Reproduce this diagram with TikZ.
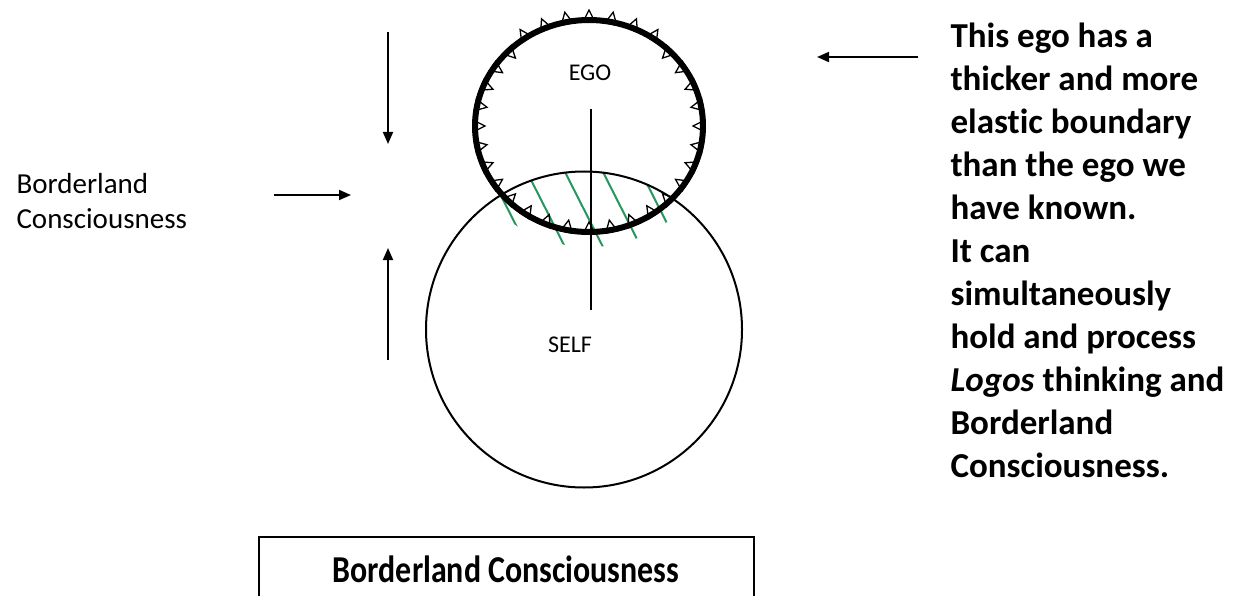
\documentclass[tikz,border=0pt]{standalone}
\usepackage{fontspec}
\setmainfont{Carlito}[Ligatures={NoCommon,NoRare}]
\usetikzlibrary{arrows.meta}
\definecolor{hatchgreen}{RGB}{40,150,95}
\begin{document}
\begin{tikzpicture}[x=1pt,y=-1pt,
  arr/.style={line width=1.8pt,-{Triangle[length=12pt,width=10pt]}},
  selfline/.style={line width=2pt},
  egoline/.style={line width=6pt},
  tri/.style={line width=1.3pt},
  hatch/.style={hatchgreen,line width=2pt},
  axis/.style={line width=2.6pt},
  lbl/.style={font=\fontsize{24}{29}\selectfont,anchor=base},
  lefttxt/.style={font=\fontsize{29}{35}\selectfont,align=left,anchor=base west},
  righttxt/.style={font=\bfseries\fontsize{35}{43}\selectfont,align=left,anchor=base west},
  titletxt/.style={font=\bfseries\fontsize{38}{46}\selectfont,anchor=base}]
\clip (0,0) rectangle (1233,596);
\fill[white] (0,0) rectangle (1233,596);
% hatching in the overlap
\begin{scope}
  \clip (584,329.5) circle (158);
  \clip (589,126) ellipse (128 and 121);
  \foreach \k in {-3,...,3}{
    \draw[hatch] ({565+\k*38-60},{172-118.4}) -- ({565+\k*38+60},{172+118.4});
  }
\end{scope}
% self circle
\draw[selfline] (584,329.5) circle (158);
% ego boundary triangles
\foreach \a in {0,11.25,...,350}{
  \pgfmathsetmacro\s{ifthenelse(and(\a>45,\a<135),1,-1)}
  \pgfmathsetmacro\ax{589+114*cos(\a)+\s*10*cos(\a)}
  \pgfmathsetmacro\ay{126-106*sin(\a)-\s*10*sin(\a)}
  \pgfmathsetmacro\bx{589+114*cos(\a)-\s*2*cos(\a)-6*sin(\a)}
  \pgfmathsetmacro\by{126-106*sin(\a)+\s*2*sin(\a)-6*cos(\a)}
  \pgfmathsetmacro\cx{589+114*cos(\a)-\s*2*cos(\a)+6*sin(\a)}
  \pgfmathsetmacro\cy{126-106*sin(\a)+\s*2*sin(\a)+6*cos(\a)}
  \draw[tri] (\ax,\ay) -- (\bx,\by) -- (\cx,\cy) -- cycle;
}
% ego boundary
\draw[egoline] (589,126) ellipse (114 and 106);
% vertical axis
\coordinate (axtop) at (591,109);
\coordinate (axbot) at (591,310);
\draw[axis] (axtop) -- (axbot);
% labels
\node[lbl] (ego) at (590,81) {EGO};
\node[lbl] (self) at (570,352) {SELF};
% arrows
\coordinate (d1) at (388,32);  \coordinate (d2) at (388,144);
\coordinate (u1) at (388,360); \coordinate (u2) at (388,248);
\coordinate (h1) at (274,195); \coordinate (h2) at (351,195);
\coordinate (r1) at (918,57);  \coordinate (r2) at (817,57);
\draw[arr] (d1) -- (d2);
\draw[arr] (u1) -- (u2);
\draw[arr] (h1) -- (h2);
\draw[arr] (r1) -- (r2);
% texts
\node[lefttxt] (bcleft) at (13,228) {Borderland\\Consciousness};
\node[righttxt] (desc) at (947,477) {This ego has a\\thicker and more\\elastic boundary\\than the ego we\\have known.\\It can\\simultaneously\\hold and process\\\textit{Logos} thinking and\\Borderland\\Consciousness.};
% title box
\draw[line width=2.2pt] (259,537) rectangle (754,640);
\node[titletxt] (title) at (506,582) {\scalebox{0.84}[1]{Borderland Consciousness}};
\end{tikzpicture}
\end{document}
